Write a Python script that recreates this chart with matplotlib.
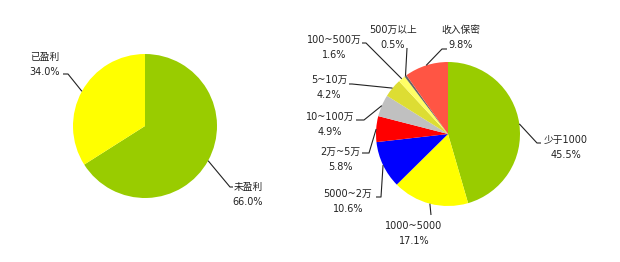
import matplotlib
matplotlib.use('Agg')
import matplotlib.pyplot as plt
import numpy as np

plt.rcParams['font.family'] = ['DejaVu Sans', 'Noto Sans CJK SC']

# ---- data ----
left_labels = ['未盈利', '已盈利']
left_values = [66.0, 34.0]
left_colors = ['#99CC00', '#FFFF00']

right_labels = ['少于1000', '1000~5000', '5000~2万', '2万~5万', '10~100万',
                '5~10万', '100~500万', '500万以上', '收入保密']
right_values = [45.5, 17.1, 10.6, 5.8, 4.9, 4.2, 1.6, 0.5, 9.8]
right_colors = ['#99CC00', '#FFFF00', '#0000FF', '#FF0000', '#C0C0C0',
                '#DDDD33', '#FFFF66', '#666666', '#FF5544']

# ---- layout (pixel coordinates, y from top) ----
W, H = 620, 262
# (text centre x, name line y, leader elbow, leader end)
left_layout = [
    (248, 187, (230, 187), (233, 187)),
    (45, 57, (68, 74), (63, 74)),
]
right_layout = [
    (566, 140, (537, 143), (541, 143)),
    (414, 226, (431, 215), (431, 215)),
    (348, 194, (381, 197), (376, 197)),
    (340, 152, (369, 153), (362, 153)),
    (330, 117, (364, 120), (356, 120)),
    (329, 80, (352, 84), (349, 84)),
    (334, 40, (366, 43), (362, 43)),
    (393, 30, (407, 48), (407, 48)),
    (461, 30, (442, 49), (447, 49)),
]

fig = plt.figure(figsize=(6.2, 2.62), dpi=100)
fig.patch.set_facecolor('white')
ax = fig.add_axes([0, 0, 1, 1])

FS = 7
TXT = '#222222'


def draw_pie(values, colors, labels, layout, cx, cy, r):
    wedges, _ = ax.pie(values, colors=colors, startangle=90, counterclock=False,
                       center=(cx, H - cy), radius=r,
                       wedgeprops=dict(linewidth=0))
    for w, lab, v, (tx, ty, elbow, end) in zip(wedges, labels, values, layout):
        ang = np.deg2rad((w.theta1 + w.theta2) / 2)
        axp = cx + r * np.cos(ang)
        ayp = (H - cy) + r * np.sin(ang)
        ax.plot([axp, elbow[0], end[0]], [ayp, H - elbow[1], H - end[1]],
                color='#222222', lw=0.8, solid_capstyle='butt')
        ax.text(tx, H - ty, lab, ha='center', va='center', fontsize=FS, color=TXT)
        ax.text(tx, H - ty - 15, f'{v:.1f}%', ha='center', va='center',
                fontsize=FS, color=TXT)


draw_pie(left_values, left_colors, left_labels, left_layout, 145, 126, 72)
draw_pie(right_values, right_colors, right_labels, right_layout, 448, 134, 72)

ax.set_xlim(0, W)
ax.set_ylim(0, H)
ax.set_aspect('auto')
ax.axis('off')

fig.savefig('out.png', dpi=100, facecolor='white')
